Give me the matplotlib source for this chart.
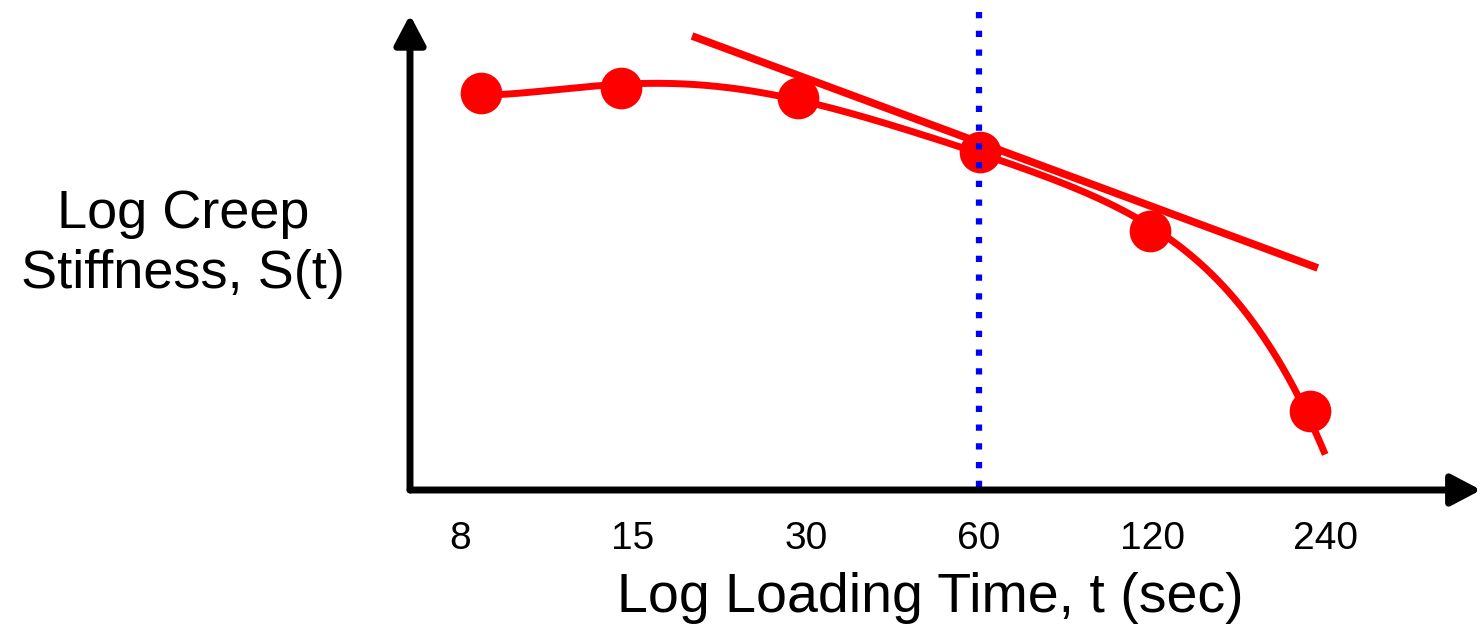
#!/usr/bin/env python3
# -*- coding: utf-8 -*-
# Creep stiffness vs loading time sketch (log-log schematic).

import matplotlib
matplotlib.use("Agg")
import matplotlib.pyplot as plt
import numpy as np
from matplotlib.patches import FancyArrowPatch

# -----------------------------------------------------------------------------
# Data
# -----------------------------------------------------------------------------

# Tick positions on the time axis and their printed labels.
tick_times = [7.5, 15, 30, 60, 120, 240]
tick_labels = ["8", "15", "30", "60", "120", "240"]

# Measured points: loading time (s) and log creep stiffness (arbitrary units).
point_times = [8.15, 14.3, 29.0, 60.2, 119.0, 226.0]
point_stiff = [3.97, 4.02, 3.92, 3.38, 2.59, 0.79]

# Master curve samples.
curve_times = [7.6, 8.8, 10.6, 13.0, 15.6, 19.4, 23.7, 28.9, 43.7, 60.2,
               89.9, 119.0, 134.3, 164.0, 187.3, 211.1, 226.0, 240.0]
curve_stiff = [3.93, 3.97, 4.03, 4.05, 4.04, 4.02, 3.98, 3.92, 3.66, 3.38,
               2.98, 2.59, 2.43, 1.97, 1.57, 1.03, 0.78, 0.27]

# Tangent line at t = 60 s (end points).
tangent_times = [19.0, 233.0]
tangent_stiff = [4.54, 2.22]

# Reference time marked with the dotted line.
ref_time = 60.0
ref_span = [0.03, 4.80]

RED = "#ff0000"
BLUE = "#0000ff"

plt.rcParams["font.family"] = ["Liberation Sans", "DejaVu Sans"]

# -----------------------------------------------------------------------------
# Figure
# -----------------------------------------------------------------------------

fig = plt.figure(figsize=(14.81, 6.24), dpi=100)
ax = fig.add_axes([410 / 1481, 134 / 624, 1071 / 1481, 480 / 624])
ax.set_xscale("log")
ax.set_xlim(6.14, 448)
ax.set_ylim(0, 4.8)
for side in ("left", "bottom", "top", "right"):
    ax.spines[side].set_visible(False)
ax.minorticks_off()
ax.set_yticks([])
ax.set_xticks(tick_times)
ax.set_xticklabels(tick_labels, fontsize=28)
ax.tick_params(axis="x", length=0, pad=22)

# Smooth master curve: polynomial fit in log2(t) through the read samples.
u_curve = np.log2(curve_times)
coef = np.polyfit(u_curve, curve_stiff, 5)
u_line = np.linspace(u_curve[0], u_curve[-1], 300)
ax.plot(2 ** u_line, np.polyval(coef, u_line), color=RED, lw=5,
        solid_capstyle="butt", zorder=3)

ax.plot(tangent_times, tangent_stiff, color=RED, lw=5.5,
        solid_capstyle="butt", zorder=3)
ax.plot(point_times, point_stiff, "o", color=RED, ms=30, mew=0, zorder=4)

ax.plot([ref_time, ref_time], ref_span, color=BLUE, lw=4.5,
        linestyle=(0, (1, 2)), zorder=5, clip_on=False)

# Axis arrows
for start, end in (((0, 0), (0, 0.99)), ((0, 0), (1.0, 0))):
    arr = FancyArrowPatch(start, end, transform=ax.transAxes,
                          arrowstyle="-|>,head_length=18,head_width=9.5",
                          mutation_scale=1, color="black", lw=5,
                          shrinkA=0, shrinkB=0, clip_on=False, zorder=6)
    ax.add_patch(arr)

fig.text(183 / 1481, 1 - 244 / 624, "Log Creep\nStiffness, S(t)",
         ha="center", va="center", fontsize=39, linespacing=1.25)
fig.text(930 / 1481, 1 - 598 / 624, "Log Loading Time, t (sec)",
         ha="center", va="center", fontsize=40)

fig.savefig("out.png", dpi=100)
